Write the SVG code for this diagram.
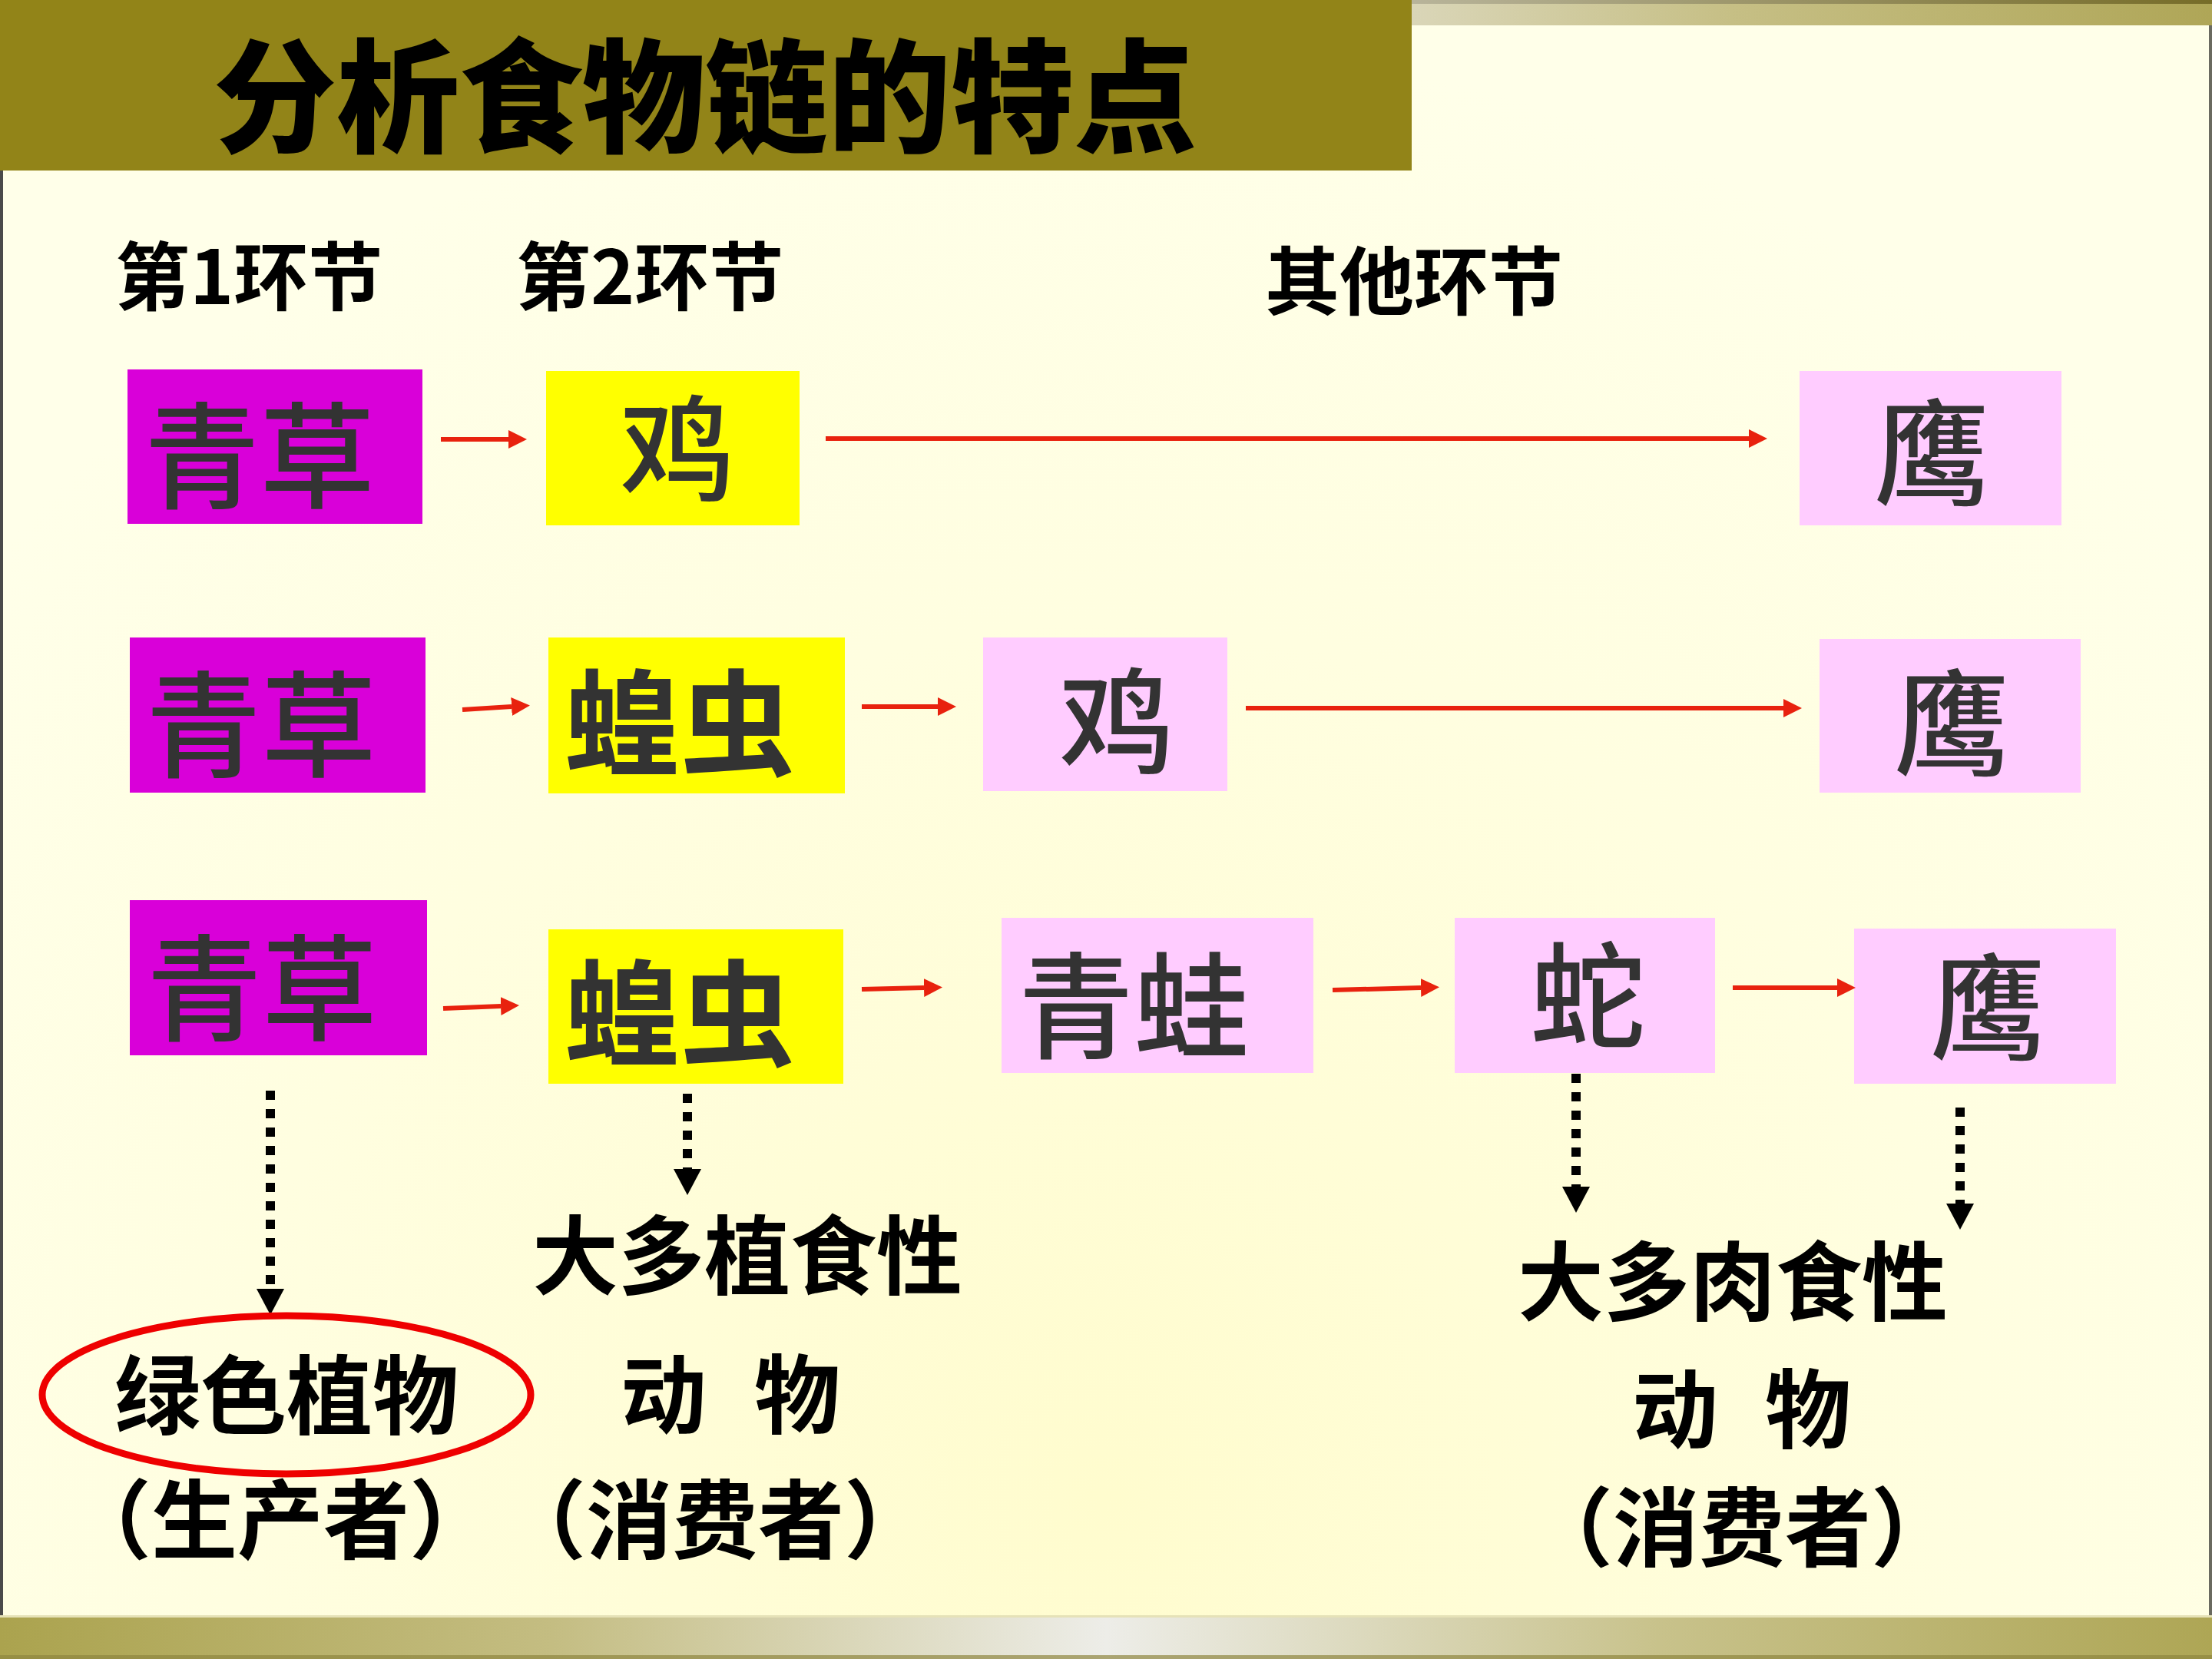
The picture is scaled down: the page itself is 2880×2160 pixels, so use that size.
<svg xmlns="http://www.w3.org/2000/svg" width="2880" height="2160" viewBox="0 0 2880 2160">
<style>
.cjk{font-family:'Noto Sans CJK SC','Noto Sans',sans-serif;}
.title{font-size:160px;font-weight:900;fill:#000;}
.hdr{font-size:97px;font-weight:700;fill:#000;}
.lbl{font-size:150px;font-weight:500;fill:#333333;}
.lblb{font-size:150px;font-weight:700;fill:#333333;}
.cap{font-size:112px;font-weight:700;fill:#000;}
.mag{fill:#D900D9;}
.yel{fill:#FFFF00;}
.pnk{fill:#FFCCFF;}
.red{stroke:#E8220E;stroke-width:6;fill:none;}
.dash{stroke:#000;stroke-width:12;stroke-dasharray:12 12;fill:none;}
</style>
<defs>
<radialGradient id="bg" cx="1440" cy="1950" r="1900" gradientUnits="userSpaceOnUse">
<stop offset="0" stop-color="#FFFCCE"/>
<stop offset="0.6" stop-color="#FFFEE0"/>
<stop offset="1" stop-color="#FFFFE9"/>
</radialGradient>
<linearGradient id="topstrip" x1="0" y1="0" x2="1" y2="0">
<stop offset="0" stop-color="#DAD6B8"/>
<stop offset="0.4" stop-color="#C6BF85"/>
<stop offset="1" stop-color="#AFA657"/>
</linearGradient>
<linearGradient id="topline" x1="0" y1="0" x2="1" y2="0">
<stop offset="0" stop-color="#B8B49A"/>
<stop offset="1" stop-color="#766C28"/>
</linearGradient>
<linearGradient id="botbar" x1="0" y1="0" x2="2880" y2="0" gradientUnits="userSpaceOnUse">
<stop offset="0" stop-color="#ABA34E"/>
<stop offset="0.25" stop-color="#C4BD82"/>
<stop offset="0.5" stop-color="#EDEDE8"/>
<stop offset="0.75" stop-color="#C8C28B"/>
<stop offset="1" stop-color="#AEA655"/>
</linearGradient>
<marker id="ra" markerUnits="userSpaceOnUse" markerWidth="24" markerHeight="24" viewBox="0 0 24 24" refX="0" refY="12" orient="auto">
<path d="M0,0 L24,12 L0,24 z" fill="#E8220E"/>
</marker>
<marker id="ba" markerUnits="userSpaceOnUse" markerWidth="34" markerHeight="36" viewBox="0 0 34 36" refX="0" refY="18" orient="auto">
<path d="M0,0 L34,18 L0,36 z" fill="#000"/>
</marker>
</defs>

<g id="background">
<rect x="0" y="0" width="2880" height="2160" fill="url(#bg)"/>
<rect x="1838" y="0" width="1042" height="33" fill="url(#topstrip)"/>
<rect x="1838" y="0" width="1042" height="5" fill="url(#topline)"/>
<rect x="0" y="2103" width="2880" height="57" fill="url(#botbar)"/>
<rect x="0" y="2103" width="2880" height="3" fill="#E6E2B8"/>
<rect x="0" y="2155" width="2880" height="5" fill="#8E8640" opacity="0.7"/>
<rect x="0" y="222" width="4" height="1881" fill="#4A4A4A"/>
<rect x="2876" y="33" width="4" height="2070" fill="#6A6A60"/>
<rect x="0" y="0" width="1838" height="222" fill="#928418"/>
</g>

<g id="title">
<text class="cjk title" x="918" y="186" text-anchor="middle">分析食物链的特点</text>
</g>

<g id="headers">
<text class="cjk hdr" x="150" y="396">第1环节</text>
<text class="cjk hdr" x="672" y="396">第2环节</text>
<text class="cjk hdr" x="1841" y="402" text-anchor="middle">其他环节</text>
</g>

<g id="n-r1-grass"><rect class="mag" x="166" y="481" width="384" height="201"/><text class="cjk lbl" x="338" y="650" text-anchor="middle">青草</text></g>
<g id="n-r1-chicken"><rect class="yel" x="711" y="483" width="330" height="201"/><text class="cjk lbl" x="882" y="641" text-anchor="middle">鸡</text></g>
<g id="n-r1-eagle"><rect class="pnk" x="2343" y="483" width="341" height="201"/><text class="cjk lbl" x="2515" y="646" text-anchor="middle">鹰</text></g>

<g id="n-r2-grass"><rect class="mag" x="169" y="830" width="385" height="202"/><text class="cjk lbl" x="340" y="1000" text-anchor="middle">青草</text></g>
<g id="n-r2-locust"><rect class="yel" x="714" y="830" width="386" height="203"/><text class="cjk lblb" x="885" y="998" text-anchor="middle">蝗虫</text></g>
<g id="n-r2-chicken"><rect class="pnk" x="1280" y="830" width="318" height="200"/><text class="cjk lbl" x="1454" y="996" text-anchor="middle">鸡</text></g>
<g id="n-r2-eagle"><rect class="pnk" x="2369" y="832" width="340" height="200"/><text class="cjk lbl" x="2541" y="998" text-anchor="middle">鹰</text></g>

<g id="n-r3-grass"><rect class="mag" x="169" y="1172" width="387" height="202"/><text class="cjk lbl" x="341" y="1343" text-anchor="middle">青草</text></g>
<g id="n-r3-locust"><rect class="yel" x="714" y="1210" width="384" height="201"/><text class="cjk lblb" x="885" y="1376" text-anchor="middle">蝗虫</text></g>
<g id="n-r3-frog"><rect class="pnk" x="1304" y="1195" width="406" height="202"/><text class="cjk lbl" x="1476" y="1366" text-anchor="middle">青蛙</text></g>
<g id="n-r3-snake"><rect class="pnk" x="1894" y="1195" width="339" height="202"/><text class="cjk lbl" x="2067" y="1353" text-anchor="middle">蛇</text></g>
<g id="n-r3-eagle"><rect class="pnk" x="2414" y="1209" width="341" height="202"/><text class="cjk lbl" x="2588" y="1368" text-anchor="middle">鹰</text></g>

<g id="connectors">
<path class="red" d="M574,572 L662,572" marker-end="url(#ra)"/>
<path class="red" d="M1075,571 L2277,571" marker-end="url(#ra)"/>
<path class="red" d="M602,924 L666,920" marker-end="url(#ra)"/>
<path class="red" d="M1122,920 L1221,920" marker-end="url(#ra)"/>
<path class="red" d="M1622,922 L2322,922" marker-end="url(#ra)"/>
<path class="red" d="M577,1313 L652,1310" marker-end="url(#ra)"/>
<path class="red" d="M1122,1288 L1203,1286" marker-end="url(#ra)"/>
<path class="red" d="M1735,1289 L1850,1286" marker-end="url(#ra)"/>
<path class="red" d="M2256,1286 L2392,1286" marker-end="url(#ra)"/>
<path class="dash" d="M352,1420 L352,1678" marker-end="url(#ba)"/>
<path class="dash" d="M895,1424 L895,1522" marker-end="url(#ba)"/>
<path class="dash" d="M2052,1398 L2052,1545" marker-end="url(#ba)"/>
<path class="dash" d="M2552,1442 L2552,1567" marker-end="url(#ba)"/>
</g>

<g id="producer">
<ellipse cx="373" cy="1816" rx="318" ry="103" fill="none" stroke="#EE0000" stroke-width="9"/>
<text class="cjk cap" x="373" y="1859" text-anchor="middle">绿色植物</text>
<text class="cjk cap" x="365" y="2021" text-anchor="middle">（生产者）</text>
</g>

<g id="herbivore">
<text class="cjk cap" x="973" y="1677" text-anchor="middle">大多植食性</text>
<text class="cjk cap" x="808 920 982" y="1858">动 物</text>
<text class="cjk cap" x="931" y="2021" text-anchor="middle">（消费者）</text>
</g>

<g id="carnivore">
<text class="cjk cap" x="2256" y="1711" text-anchor="middle">大多肉食性</text>
<text class="cjk cap" x="2125 2240 2298" y="1877">动 物</text>
<text class="cjk cap" x="2268" y="2031" text-anchor="middle">（消费者）</text>
</g>
</svg>
